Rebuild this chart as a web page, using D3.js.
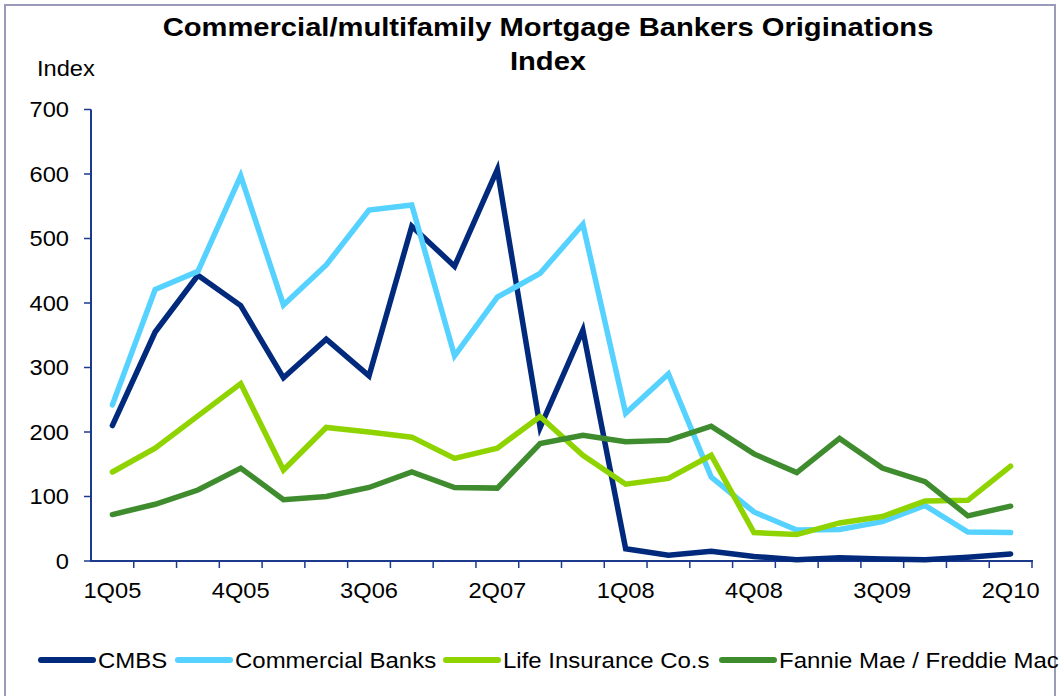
<!DOCTYPE html>
<html>
<head>
<meta charset="utf-8">
<script src="https://cdn.jsdelivr.net/npm/d3@7"></script>
<style>
    body { margin: 0; background: #fff; }
    svg text { font-family: "Liberation Sans", Arial, sans-serif; fill: #000; }
</style>
</head>
<body>
<svg id="chart" width="1062" height="696"></svg>
<script>
const quarters = ['1Q05', '2Q05', '3Q05', '4Q05', '1Q06', '2Q06', '3Q06', '4Q06',
    '1Q07', '2Q07', '3Q07', '4Q07', '1Q08', '2Q08', '3Q08', '4Q08',
    '1Q09', '2Q09', '3Q09', '4Q09', '1Q10', '2Q10'];
const labelledQuarters = ['1Q05', '4Q05', '3Q06', '2Q07', '1Q08', '4Q08', '3Q09', '2Q10'];
const yTicks = [0, 100, 200, 300, 400, 500, 600, 700];

const cmbs = [210, 355, 443, 396, 284, 344, 287, 519, 457, 607, 207, 358,
    19, 9, 15, 7, 2, 5, 3, 2, 6, 11];
const commercialBanks = [242, 421, 449, 597, 397, 459, 544, 552, 318, 409, 446, 522,
    229, 290, 130, 76, 48, 49, 61, 86, 45, 44];
const lifeInsurance = [138, 175, 225, 275, 141, 207, 200, 192, 159, 175, 224, 164,
    119, 128, 164, 44, 41, 59, 69, 93, 94, 147];
const fannieFreddie = [72, 88, 110, 144, 95, 100, 114, 138, 114, 113, 182, 195,
    185, 187, 209, 166, 137, 190, 144, 123, 70, 85];

const series = [
    { name: 'CMBS', values: cmbs, color: '#022a7c' },
    { name: 'Commercial Banks', values: commercialBanks, color: '#55d2ff' },
    { name: 'Life Insurance Co.s', values: lifeInsurance, color: '#8fd400' },
    { name: 'Fannie Mae / Freddie Mac', values: fannieFreddie, color: '#3f8c2f' }
];

const svg = d3.select('#chart');
const stretch = 1.1; // texten i originalet är lite utdragen på bredden
const axisColor = '#1c3a8c';

// Ram runt diagrammet
svg.append('rect')
    .attr('x', 5).attr('y', 5)
    .attr('width', 1050).attr('height', 700)
    .attr('fill', 'none')
    .attr('stroke', '#9a9abb')
    .attr('stroke-width', 2);

function addText(x, y, str, size, anchor, bold) {
    return svg.append('text')
        .attr('transform', `translate(${x},${y}) scale(${stretch},1)`)
        .attr('text-anchor', anchor)
        .style('font-size', size + 'px')
        .style('font-weight', bold ? 'bold' : 'normal')
        .text(str);
}

// Titel
addText(548, 36, 'Commercial/multifamily Mortgage Bankers Originations', 26.5, 'middle', true);
addText(548, 70, 'Index', 26.5, 'middle', true);
addText(37, 76, 'Index', 21.5, 'start', false);

const x = d3.scaleBand().domain(quarters).range([91, 1032]);
const y = d3.scaleLinear().domain([0, 700]).range([561, 109.5]);

// Y-axel
const yAxis = svg.append('g');
yAxis.append('line')
    .attr('x1', 91).attr('x2', 91)
    .attr('y1', y(700)).attr('y2', y(0))
    .attr('stroke', axisColor).attr('stroke-width', 2);
yTicks.forEach(t => {
    yAxis.append('line')
        .attr('x1', 84).attr('x2', 91)
        .attr('y1', y(t)).attr('y2', y(t))
        .attr('stroke', axisColor).attr('stroke-width', 1.5);
    addText(69, y(t) + 7.5, d3.format('d')(t), 21.5, 'end', false);
});

// X-axel, streck mellan kvartalen
const xAxis = svg.append('g');
xAxis.append('line')
    .attr('x1', 90).attr('x2', 1033)
    .attr('y1', y(0)).attr('y2', y(0))
    .attr('stroke', axisColor).attr('stroke-width', 2);
quarters.concat(['end']).forEach((q, i) => {
    const tx = i < quarters.length ? x(q) : x.range()[1];
    if (i === 0) return;
    xAxis.append('line')
        .attr('x1', tx).attr('x2', tx)
        .attr('y1', y(0)).attr('y2', y(0) + 7)
        .attr('stroke', axisColor).attr('stroke-width', 1.5);
});
labelledQuarters.forEach(q => {
    addText(x(q) + x.bandwidth() / 2, 598, q, 21.5, 'middle', false);
});

// Linjer
const line = d3.line()
    .x((d, i) => x(quarters[i]) + x.bandwidth() / 2)
    .y(d => y(d));

series.forEach(s => {
    svg.append('path')
        .datum(s.values)
        .attr('d', line)
        .attr('fill', 'none')
        .attr('stroke', s.color)
        .attr('stroke-width', 5.5)
        .attr('stroke-linejoin', 'miter')
        .attr('stroke-linecap', 'round');
});

// Legend
const legendX = [39, 176, 444, 720];
series.forEach((s, i) => {
    svg.append('line')
        .attr('x1', legendX[i] + 2).attr('x2', legendX[i] + 54)
        .attr('y1', 660).attr('y2', 660)
        .attr('stroke', s.color)
        .attr('stroke-width', 6)
        .attr('stroke-linecap', 'round');
    addText(legendX[i] + 59, 667.5, s.name, 21.8, 'start', false);
});
</script>
</body>
</html>
